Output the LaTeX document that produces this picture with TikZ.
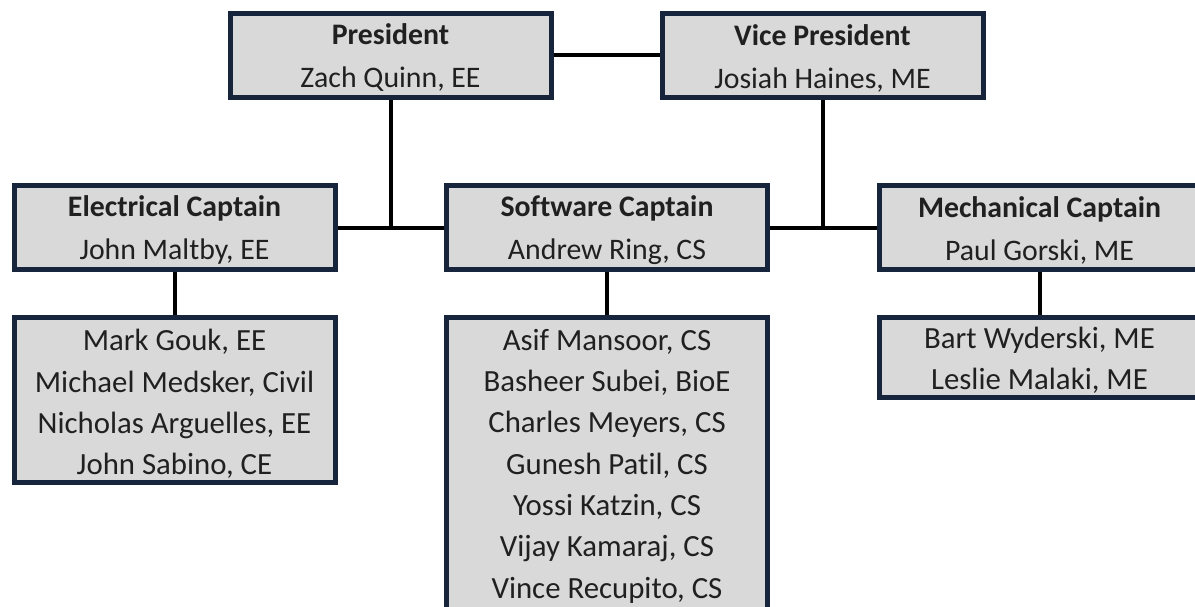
\documentclass[tikz,border=0pt]{standalone}
\usepackage{fontspec}
\setmainfont[Ligatures=NoCommon]{Carlito}
\usetikzlibrary{backgrounds}
\definecolor{boxline}{HTML}{16253C}
\definecolor{boxfill}{HTML}{D9D9D9}
\definecolor{txt}{HTML}{202020}
\tikzset{
  orgbox/.style={draw=boxline, line width=5pt, fill=boxfill, inner sep=0pt,
    minimum width=321pt},
  rolebox/.style={orgbox, minimum height=84pt},
  roletext/.style={align=center, text=txt, inner sep=0pt,
    font=\fontsize{29.8}{43}\selectfont},
  teamtext/.style={align=center, text=txt, inner sep=0pt,
    font=\fontsize{30.8}{41.3}\selectfont},
  link/.style={line width=4pt, black}
}
\begin{document}
\begin{tikzpicture}[x=1pt, y=-1pt]
\useasboundingbox (0,0) rectangle (1195,607);
% leadership
\node[rolebox] (pres) at (390.5,55.5) {};
\node[rolebox] (vp) at (822.5,55.5) {};
% captains
\node[rolebox] (elec) at (174.5,227.5) {};
\node[rolebox] (soft) at (607,227.5) {};
\node[rolebox] (mech) at (1039.5,227.5) {};
% teams
\node[orgbox, minimum height=165pt] (electeam) at (174.5,400) {};
\node[orgbox, minimum height=293pt] (softteam) at (607,464) {};
\node[orgbox, minimum height=80pt] (mechteam) at (1039.5,357.5) {};
% box texts
\node[roletext] (presT) at ([yshift=-2.5pt]pres.center) {\textbf{President}\\Zach Quinn, EE};
\node[roletext] (vpT) at ([yshift=-2.5pt]vp.center) {\textbf{Vice President}\\Josiah Haines, ME};
\node[roletext] (elecT) at ([yshift=-2.5pt]elec.center) {\textbf{Electrical Captain}\\John Maltby, EE};
\node[roletext] (softT) at ([yshift=-2.5pt]soft.center) {\textbf{Software Captain}\\Andrew Ring, CS};
\node[roletext] (mechT) at ([yshift=-2.5pt]mech.center) {\textbf{Mechanical Captain}\\Paul Gorski, ME};
\node[teamtext] (electeamT) at ([yshift=-4pt]electeam.center)
  {Mark Gouk, EE\\Michael Medsker, Civil\\Nicholas Arguelles, EE\\John Sabino, CE};
\node[teamtext] (softteamT) at ([yshift=-2pt]softteam.center)
  {Asif Mansoor, CS\\Basheer Subei, BioE\\Charles Meyers, CS\\Gunesh Patil, CS\\Yossi Katzin, CS\\Vijay Kamaraj, CS\\Vince Recupito, CS};
\node[teamtext] (mechteamT) at ([yshift=-3pt]mechteam.center)
  {Bart Wyderski, ME\\Leslie Malaki, ME};
% connectors
\begin{scope}[on background layer]
  \draw[link] (pres.east) -- (vp.west);
  \draw[link] (elec.east) -- (soft.west);
  \draw[link] (soft.east) -- (mech.west);
  \draw[link] (pres.south) -- (pres.south |- elec.east);
  \draw[link] (vp.south) -- (vp.south |- mech.west);
  \draw[link] (elec.south) -- (electeam.north);
  \draw[link] (soft.south) -- (softteam.north);
  \draw[link] (mech.south) -- (mechteam.north);
\end{scope}
\end{tikzpicture}
\end{document}
